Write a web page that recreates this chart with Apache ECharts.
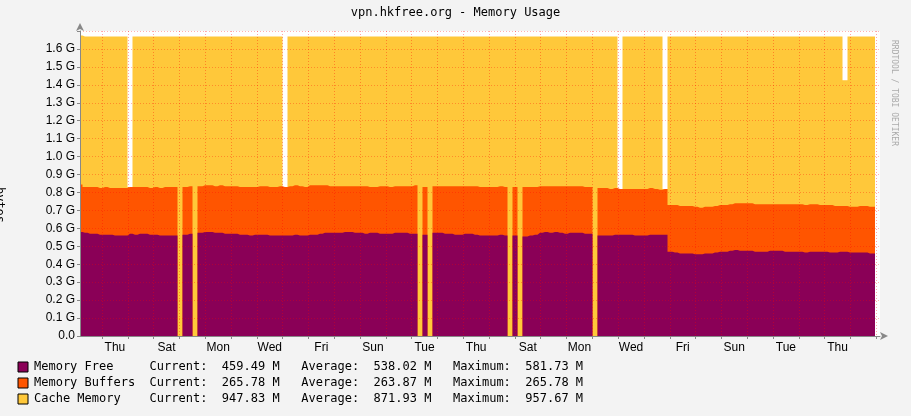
<!DOCTYPE html>
<html><head><meta charset="utf-8">
<script src="https://cdn.jsdelivr.net/npm/echarts@6/dist/echarts.min.js"></script>
<style>html,body{margin:0;background:#F3F3F3;}#c{width:911px;height:416px;}</style>
</head><body><div id="c"></div>
<script>
// vpn.hkfree.org memory usage — stacked areas, values in G (1000 base)
const dayLabels = ['Thu','Sat','Mon','Wed','Fri','Sun','Tue','Thu','Sat','Mon','Wed','Fri','Sun','Tue','Thu'];
const memFree = [
 .58,.575,.57,.57,.565,.565,.565,.56,.56,.56, .57,.565,.57,.57,.565,.565,.56,.56,.56,.56,
 0,.565,.57,0,.575,.58,.58,.575,.575,.57, .57,.57,.565,.565,.56,.565,.565,.565,.56,.56,
 .56,.56,.56,.565,.56,.56,.565,.565,.57,.575, .575,.575,.575,.58,.58,.575,.575,.57,.575,.575,
 .57,.57,.57,.575,.575,.575,.57,.57,0,.565, 0,.575,.575,.57,.57,.565,.565,.57,.57,.565,
 .56,.56,.56,.56,.565,.56,0,.56,0,.555, .56,.565,.575,.58,.575,.58,.575,.57,.575,.575,
 .575,.57,.57,0,.56,.56,.56,.565,.565,.565, .565,.56,.56,.56,.565,.565,.565,.565,.47,.465,
 .46,.46,.46,.455,.455,.46,.46,.465,.47,.47, .475,.48,.475,.475,.475,.47,.47,.47,.475,.475,
 .475,.47,.47,.47,.47,.465,.47,.47,.47,.47, .465,.465,.47,.47,.465,.465,.465,.465,.46,.46];
const memBuffers = [
 .265,.255,.26,.26,.26,.265,.26,.265,.265,.265, .26,.265,.26,.26,.26,.265,.265,.27,.27,.27,
 0,.265,.265,0,.26,.26,.26,.26,.265,.265, .265,.265,.265,.265,.27,.265,.27,.27,.27,.27,
 .275,.27,.275,.275,.275,.27,.275,.275,.27,.265, .26,.26,.26,.255,.255,.26,.26,.265,.255,.255,
 .265,.265,.26,.26,.26,.26,.265,.27,0,.265, 0,.26,.26,.265,.265,.27,.27,.265,.265,.27,
 .27,.27,.27,.27,.27,.27,0,.27,0,.275, .27,.265,.26,.255,.26,.255,.26,.265,.26,.26,
 .26,.26,.26,0,.265,.265,.26,.26,.255,.255, .255,.26,.26,.26,.26,.255,.25,.255,.26,.265,
 .265,.265,.265,.265,.26,.26,.26,.26,.26,.26, .26,.26,.265,.265,.265,.265,.265,.265,.26,.26,
 .26,.265,.265,.265,.265,.265,.265,.265,.26,.26, .265,.26,.255,.255,.255,.255,.26,.26,.26,.26];
const memCache = [
 .83,.84,.84,.84,.845,.84,.845,.845,.845,.845, 0,.84,.84,.84,.845,.84,.845,.84,.84,.84,
 1.67,.84,.835,1.67,.835,.83,.83,.835,.83,.835, .835,.835,.84,.84,.84,.84,.835,.835,.84,.84,
 .835,0,.835,.83,.835,.84,.83,.83,.83,.83, .835,.835,.835,.835,.835,.835,.835,.835,.84,.84,
 .835,.835,.84,.835,.835,.835,.835,.83,1.67,.84, 1.67,.835,.835,.835,.835,.835,.835,.835,.835,.835,
 .84,.84,.84,.84,.835,.84,1.67,.84,1.67,.84, .84,.84,.835,.835,.835,.835,.835,.835,.835,.835,
 .835,.84,.84,1.67,.845,.845,.85,.845,0,.85, .85,.85,.85,.85,.845,.85,.855,0,.94,.94,
 .945,.945,.945,.95,.955,.95,.95,.945,.94,.94, .935,.93,.93,.93,.93,.935,.935,.935,.935,.935,
 .935,.935,.935,.935,.935,.94,.935,.935,.94,.94, .94,.945,.945,.7,.95,.95,.945,.945,.95,.95];
const legendRows = [
 ['Memory Free','459.49 M','538.02 M','581.73 M'],
 ['Memory Buffers','265.78 M','263.87 M','265.78 M'],
 ['Cache Memory','947.83 M','871.93 M','957.67 M']];
const COL = ['#8A0057','#FF5500','#FFC83A'];

// sample times in days from first Thursday 00:00
const t0 = -0.853, step = 31/160;
const times = memFree.map((_, i) => t0 + i*step);
// cumulative tops, drawn back to front
const topBuf = memFree.map((v, i) => v + memBuffers[i]);
const topCache = topBuf.map((v, i) => v + memCache[i]);
const pair = arr => arr.map((v, i) => [times[i], v]);

const mono = 'DejaVu Sans Mono';
const graphic = [
 {type:'text',left:'center',top:7,style:{text:'vpn.hkfree.org - Memory Usage',font:'12px '+mono,fill:'#000'}},
 {type:'text',x:898,y:40,rotation:-Math.PI/2,style:{text:'RRDTOOL / TOBI OETIKER',font:'8px '+mono,fill:'#aaa'}},
 {type:'text',x:5,y:205,rotation:-Math.PI/2,style:{text:'bytes',font:'12px '+mono,fill:'#000',align:'center'}},
];
legendRows.forEach((r, k) => {
  const y = 362 + k*16;
  graphic.push({type:'rect',shape:{x:18,y:y,width:10,height:10},style:{fill:COL[k],stroke:'#000',lineWidth:1}});
  const txt = r[0].padEnd(16) + 'Current:  ' + r[1].padStart(8) + '   Average:  ' + r[2].padStart(8) + '   Maximum:  ' + r[3].padStart(8);
  graphic.push({type:'text',x:34,y:y-1,style:{text:txt,font:'12px '+mono,fill:'#000'}});
});

const mk = (name, data, k) => ({name, type:'line', data:pair(data), step:'middle', z:2,
  symbol:'none', lineStyle:{width:0}, areaStyle:{color:COL[k], opacity:1}, itemStyle:{color:COL[k]}});

const chart = echarts.init(document.getElementById('c'), null, {renderer:'canvas'});
chart.setOption({
  animation:false, backgroundColor:'#F3F3F3',
  grid:{left:80, right:31, top:31, bottom:80, backgroundColor:'#fff', show:true, borderWidth:0},
  graphic,
  xAxis:{type:'value', min:t0, max:t0+31, z:5,
    axisLine:{onZero:false, lineStyle:{color:'#888'}, symbol:['none','arrow'], symbolSize:[6,8], symbolOffset:[0,8]},
    axisTick:{show:true, customValues:Array.from({length:31},(_,d)=>d), lineStyle:{color:'#888'}, length:3},
    axisLabel:{customValues:dayLabels.map((_,i)=>0.5+2*i), formatter:v=>dayLabels[Math.round((v-0.5)/2)],
      font:'12px '+mono, color:'#000', margin:6},
    splitLine:{show:true, lineStyle:{color:'rgba(255,0,0,0.35)', type:[1,2], width:1}}},
  yAxis:{type:'value', min:0, max:1.7, interval:0.1, z:5,
    axisLine:{show:true, onZero:false, lineStyle:{color:'#888'}, symbol:['none','arrow'], symbolSize:[6,8], symbolOffset:[0,8]},
    axisTick:{show:true, length:3, lineStyle:{color:'#888'}},
    axisLabel:{formatter:v=>v>1.65?'':v.toFixed(1)+(v===0?'':' G'), font:'12px '+mono, color:'#000', margin:5},
    splitLine:{show:true, lineStyle:{color:'rgba(255,0,0,0.3)', type:[1,2], width:1}}},
  series:[mk('Cache Memory',topCache,2), mk('Memory Buffers',topBuf,1), mk('Memory Free',memFree,0)],
});
</script></body></html>
